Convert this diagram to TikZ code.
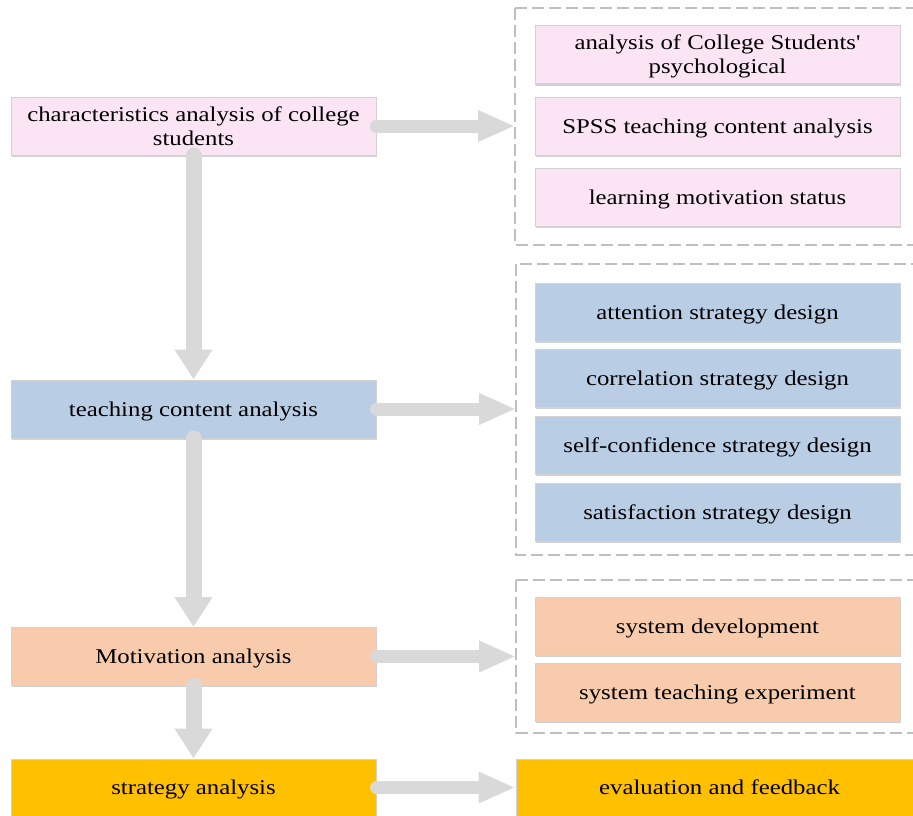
\documentclass[tikz,border=0pt]{standalone}
\usepackage{fontspec}
\newfontfamily\boxfont[FakeStretch=1.18]{Liberation Serif}
\usetikzlibrary{arrows.meta,shadows}
\definecolor{cpink}{RGB}{251,228,244}
\definecolor{cblue}{RGB}{185,205,229}
\definecolor{cpeach}{RGB}{248,203,173}
\definecolor{cgold}{RGB}{255,192,0}
\definecolor{carrow}{RGB}{217,217,217}
\definecolor{cdash}{RGB}{191,191,191}
\definecolor{cedge}{RGB}{210,210,210}
\tikzset{
  box/.style={draw=cedge, line width=1pt, minimum width=365pt, minimum height=58pt,
    inner sep=0pt, align=center, font=\boxfont\fontsize{21}{24}\selectfont, anchor=center,
    text height=19pt, text depth=5pt,
    drop shadow={shadow xshift=1pt, shadow yshift=-1.5pt, fill=black!35, opacity=0.5}},
  twoline/.style={text height=43pt, text depth=5pt},
  grp/.style={draw=cdash, line width=2pt, dash pattern=on 12pt off 5pt},
  hbigarrow/.style={draw=carrow, line width=13pt, line cap=round,
    -{Triangle[length=37pt,width=29pt]}},
  vbigarrow/.style={draw=carrow, line width=16pt, line cap=round,
    -{Triangle[length=30pt,width=36pt]}},
}
\begin{document}
\begin{tikzpicture}[x=1pt,y=-1pt]
\useasboundingbox (0,0) rectangle (913,816);
% left column
\node[box, twoline, fill=cpink] (c1) at (193.5,126) {characteristics analysis of college\\students};
\node[box, fill=cblue] (c2) at (193.5,409) {teaching content analysis};
\node[box, fill=cpeach] (c3) at (193.5,656.5) {Motivation analysis};
\node[box, fill=cgold, minimum height=57pt] (c4) at (193.5,787.5) {strategy analysis};
% groups
\draw[grp] (515,8) rectangle (930,245);
\coordinate (g1) at (515,126);
\draw[grp] (516,264) rectangle (930,555);
\coordinate (g2) at (516,409);
\draw[grp] (516,580) rectangle (930,733);
\coordinate (g3) at (516,656.5);
% group 1 boxes
\node[box, twoline, fill=cpink] (a1) at (717.5,55) {analysis of College Students'\\psychological};
\node[box, fill=cpink] (a2) at (717.5,126) {SPSS teaching content analysis};
\node[box, fill=cpink] (a3) at (717.5,197.5) {learning motivation status};
% group 2 boxes
\node[box, fill=cblue] (b1) at (717.5,312) {attention strategy design};
\node[box, fill=cblue] (b2) at (717.5,378.5) {correlation strategy design};
\node[box, fill=cblue] (b3) at (717.5,445) {self-confidence strategy design};
\node[box, fill=cblue] (b4) at (717.5,512) {satisfaction strategy design};
% group 3 boxes
\node[box, fill=cpeach] (d1) at (717.5,626.5) {system development};
\node[box, fill=cpeach] (d2) at (717.5,692.5) {system teaching experiment};
% final box
\node[box, fill=cgold, minimum width=410pt, minimum height=57pt] (e1) at (721,787.5) {};
\node[font=\boxfont\fontsize{21}{24}\selectfont, text height=19pt, text depth=5pt, inner sep=0pt] (e1t) at (719.5,787.5) {evaluation and feedback};
% arrows
\draw[hbigarrow] (c1.east) -- (g1);
\draw[hbigarrow] (c2.east) -- (g2);
\draw[hbigarrow] (c3.east) -- (g3);
\draw[hbigarrow] (c4.east) -- (e1.west);
\draw[vbigarrow] (c1.south) -- (c2.north);
\draw[vbigarrow] (c2.south) -- (c3.north);
\draw[vbigarrow] (c3.south) -- (c4.north);
\end{tikzpicture}
\end{document}
